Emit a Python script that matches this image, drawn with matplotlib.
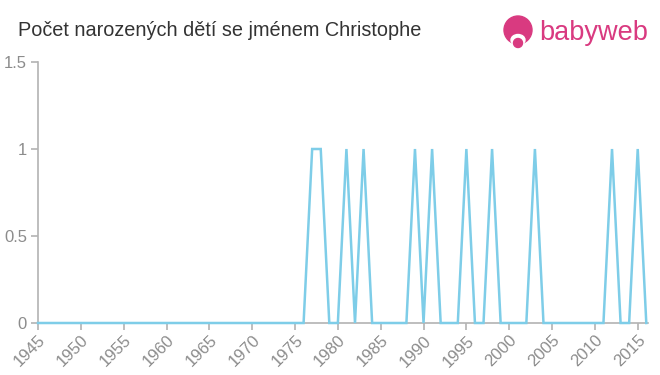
import matplotlib
matplotlib.use("Agg")
import matplotlib.pyplot as plt
from matplotlib.patches import Circle, Ellipse

years = list(range(1945, 2017))
peak_years = [1977, 1978, 1981, 1983, 1989, 1991, 1995, 1998, 2003, 2012, 2015]
counts = [1 if y in peak_years else 0 for y in years]
x_ticks = list(range(1945, 2016, 5))
y_ticks = [0, 0.5, 1, 1.5]
y_labels = ["0", "0.5", "1", "1.5"]
title = "Počet narozených dětí se jménem Christophe"

plt.rcParams['font.family'] = ['Liberation Sans', 'DejaVu Sans']

fig = plt.figure(figsize=(6.6, 3.75), dpi=100)
ax = fig.add_axes([38/660, 1 - 323/375, (648-38)/660, (323-62)/375])

ax.plot(years, counts, color='#7ecde8', lw=1.8, solid_joinstyle='miter', clip_on=False, zorder=3)
ax.set_xlim(1945, 2016.2)
ax.set_ylim(0, 1.5)

ax.set_xticks(x_ticks)
ax.set_xticklabels([str(t) for t in x_ticks], rotation=45, ha='right', rotation_mode='anchor')
ax.set_yticks(y_ticks)
ax.set_yticklabels(y_labels)

for s in ['top', 'right']:
    ax.spines[s].set_visible(False)
for s in ['left', 'bottom']:
    ax.spines[s].set_color('#b3b3b3')
    ax.spines[s].set_linewidth(1.2)
ax.spines['bottom'].set_zorder(2)
ax.tick_params(axis='both', colors='#b3b3b3', labelcolor='#8c8c8c', labelsize=12, length=5, width=1.2)
ax.tick_params(axis='y', pad=3)
ax.tick_params(axis='x', pad=2)

fig.text(18/660, 1 - 30/375, title, fontsize=14.3, color='#333333', va='center', ha='left')

# logo
pink = '#d93a80'
lax = fig.add_axes([0, 0, 1, 1], facecolor='none')
lax.set_xlim(0, 660)
lax.set_ylim(375, 0)
lax.axis('off')
lax.add_patch(Circle((518, 30), 14, color=pink))
lax.add_patch(Ellipse((518, 40), 14, 11, color='white'))
lax.add_patch(Circle((518, 43), 4.5, color=pink))
lax.text(539, 33, "babyweb", fontsize=19.5, color=pink, va='center', ha='left')

fig.savefig("out.png", dpi=100)
